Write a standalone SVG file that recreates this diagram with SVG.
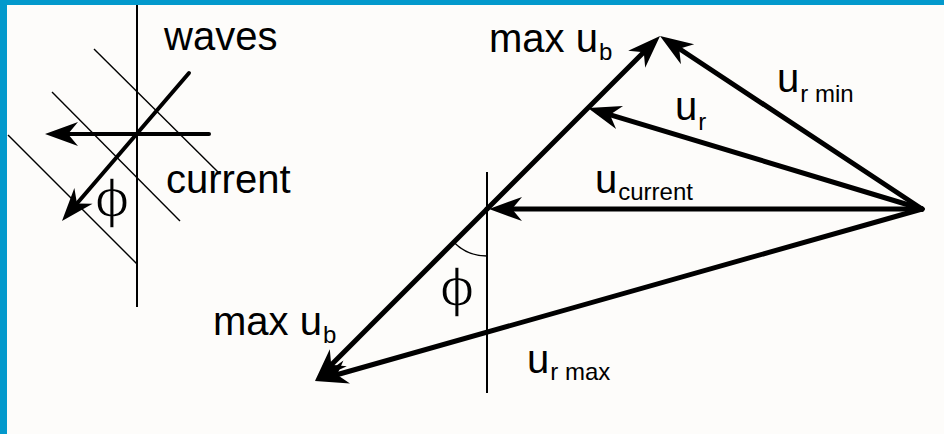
<svg xmlns="http://www.w3.org/2000/svg" width="944" height="434" viewBox="0 0 944 434">
<style>
.t{font-family:"Liberation Sans",Arial,sans-serif;font-size:40px;fill:#000}
.s{font-size:24px}
.phi{font-family:"Liberation Sans","DejaVu Sans",sans-serif;font-size:53px;fill:#000;stroke:#fdfcfa;stroke-width:1.6}
.thin{stroke:#000;stroke-width:1.4;fill:none}
.vline{stroke:#000;stroke-width:2;fill:none}
.v4{stroke:#000;stroke-width:4;fill:none;stroke-linecap:round}
.v5{stroke:#000;stroke-width:5;fill:none;stroke-linecap:round}
</style>
<defs>
<marker id="ah" markerUnits="userSpaceOnUse" orient="auto" refX="13" refY="0" markerWidth="40" markerHeight="30" overflow="visible">
<path d="M0,-12 L33,0 L0,12 L10,0 Z" fill="#000"/>
</marker>
</defs>
<rect x="0" y="0" width="944" height="434" fill="#fdfcfa"/>
<g id="frame">
<rect x="0" y="0" width="944" height="5" fill="#0399cc"/>
<rect x="0" y="0" width="7" height="434" fill="#0399cc"/>
</g>
<g id="left-sketch">
<line class="vline" x1="137" y1="5" x2="137" y2="307"/>
<line class="thin" x1="94" y1="49" x2="218" y2="172"/>
<line class="thin" x1="52" y1="92" x2="180" y2="221"/>
<line class="thin" x1="8" y1="135" x2="137" y2="264"/>
<text class="t" x="164" y="50">waves</text>
<text class="t" x="166" y="193">current</text>
<text class="phi" transform="translate(112,217) scale(1.2,1)" x="0" y="0" text-anchor="middle">ϕ</text>
</g>
<g id="right-diagram">
<line class="vline" x1="487" y1="172" x2="487" y2="393"/>
<path class="thin" d="M453.8,242.2 A47,47 0 0 0 487,256"/>
<text class="phi" transform="translate(457,306) scale(1.2,1)" x="0" y="0" text-anchor="middle">ϕ</text>
</g>
<g id="labels">
<g id="label-max-ub-top"><text class="t" x="489" y="52">max u<tspan class="s" dx="1" dy="8">b</tspan></text></g>
<g id="label-ur-min"><text class="t" x="777" y="92">u<tspan class="s" dx="1" dy="10">r min</tspan></text></g>
<g id="label-ur"><text class="t" x="675" y="120">u<tspan class="s" dx="1" dy="10">r</tspan></text></g>
<g id="label-ucurrent"><text class="t" x="595" y="193">u<tspan class="s" dx="1" dy="7">current</tspan></text></g>
<g id="label-max-ub-bottom"><text class="t" x="213" y="335">max u<tspan class="s" dx="1" dy="8">b</tspan></text></g>
<g id="label-ur-max"><text class="t" x="527" y="373">u<tspan class="s" dx="1" dy="7">r max</tspan></text></g>
</g>
<g id="connectors">
<line class="v4" x1="209" y1="134" x2="65" y2="134" marker-end="url(#ah)"/>
<line class="v4" x1="189" y1="73" x2="75" y2="205.8" marker-end="url(#ah)"/>
<line class="v5" x1="487" y1="209" x2="645.9" y2="50.1" marker-end="url(#ah)"/>
<line class="v5" x1="487" y1="209" x2="329.1" y2="366.9" marker-end="url(#ah)"/>
<line class="v5" x1="922" y1="209" x2="676.7" y2="47" marker-end="url(#ah)"/>
<line class="v5" x1="922" y1="209" x2="607.1" y2="113.8" marker-end="url(#ah)"/>
<line class="v5" x1="922" y1="209" x2="509" y2="209" marker-end="url(#ah)"/>
<line class="v5" x1="922" y1="209" x2="334.2" y2="375.5" marker-end="url(#ah)"/>
</g>
</svg>
